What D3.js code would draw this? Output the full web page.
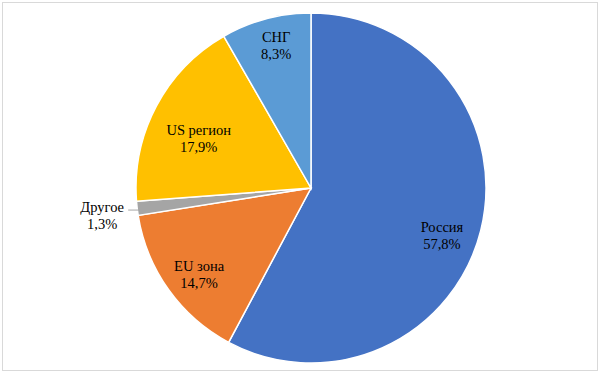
<!DOCTYPE html>
<html><head><meta charset="utf-8">
<script src="https://cdn.jsdelivr.net/npm/d3@7"></script>
<style>body{margin:0;background:#fff}svg{display:block}</style>
</head><body>
<svg id="c" width="600" height="374"></svg>
<script>
const categories = ["Россия", "EU зона", "Другое", "US регион", "СНГ"];
const values = [57.8, 14.7, 1.3, 17.9, 8.3];
const colors = ["#4472C4", "#ED7D31", "#A5A5A5", "#FFC000", "#5B9BD5"];

const svg = d3.select("#c");
svg.append("rect").attr("x", 2.5).attr("y", 2.5).attr("width", 595).attr("height", 368)
  .attr("fill", "#fff").attr("stroke", "#d9d9d9").attr("stroke-width", 1);

const cx = 311, cy = 188, R = 175;
const g = svg.append("g").attr("transform", `translate(${cx},${cy})`);
const data = categories.map((c, i) => ({cat: c, value: values[i], color: colors[i]}));
const pie = d3.pie().sort(null).value(d => d.value);
const arcs = pie(data);
const arc = d3.arc().innerRadius(0).outerRadius(R);
g.selectAll("path").data(arcs).enter().append("path")
  .attr("d", arc).attr("fill", d => d.data.color)
  .attr("stroke", "#fff").attr("stroke-width", 1.5);

const fmt = v => d3.format(".1f")(v).replace(".", ",") + "%";
const labelArc = d3.arc().innerRadius(135).outerRadius(135);
const nudge = {"Россия": [0, 14], "EU зона": [-2, 8], "US регион": [7, 13], "СНГ": [0, -13]};
arcs.forEach(a => {
  let x, y;
  if (nudge[a.data.cat]) {
    const c = labelArc.centroid(a);
    x = c[0] + nudge[a.data.cat][0];
    y = c[1] + nudge[a.data.cat][1];
  } else {
    const mid = (a.startAngle + a.endAngle) / 2;
    const px = Math.sin(mid) * (R - 2), py = -Math.cos(mid) * (R - 2) + 2;
    x = px - 37; y = py + 5;
    g.append("path").attr("d", `M${px},${py}L${px - 11},${py}`)
      .attr("stroke", "#a6a6a6").attr("fill", "none").attr("stroke-width", 1);
  }
  const t = g.append("text").attr("text-anchor", "middle")
    .style("font-family", '"Liberation Serif"')
    .style("font-size", "14.5px").style("fill", "#000");
  t.append("tspan").attr("x", x).attr("y", y - 3).text(a.data.cat);
  t.append("tspan").attr("x", x).attr("y", y + 14).text(fmt(a.data.value));
});
</script>
</body></html>
